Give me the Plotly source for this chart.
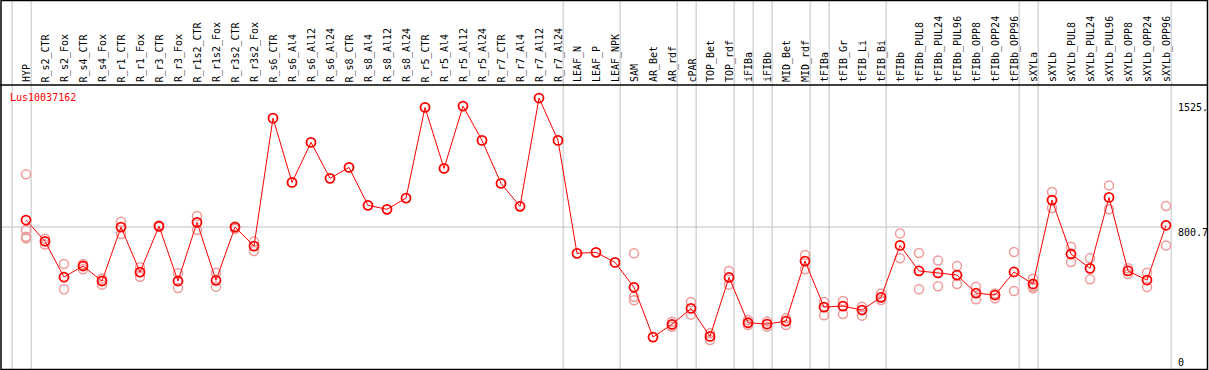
import plotly.graph_objects as go

W, H = 1209, 370

gene = "Lus10037162"
categories = ["HYP", "R_s2_CTR", "R_s2_Fox", "R_s4_CTR", "R_s4_Fox", "R_r1_CTR", "R_r1_Fox",
              "R_r3_CTR", "R_r3_Fox", "R_r1s2_CTR", "R_r1s2_Fox", "R_r3s2_CTR", "R_r3s2_Fox",
              "R_s6_CTR", "R_s6_Al4", "R_s6_Al12", "R_s6_Al24", "R_s8_CTR", "R_s8_Al4",
              "R_s8_Al12", "R_s8_Al24", "R_r5_CTR", "R_r5_Al4", "R_r5_Al12", "R_r5_Al24",
              "R_r7_CTR", "R_r7_Al4", "R_r7_Al12", "R_r7_Al24", "LEAF_N", "LEAF_P", "LEAF_NPK",
              "SAM", "AR_Bet", "AR_rdf", "cPAR", "TOP_Bet", "TOP_rdf", "iFIBa", "iFIBb",
              "MID_Bet", "MID_rdf", "tFIBa", "tFIB_Gr", "tFIB_Li", "tFIB_Bi", "tFIBb",
              "tFIBb_PUL8", "tFIBb_PUL24", "tFIBb_PUL96", "tFIBb_OPP8", "tFIBb_OPP24",
              "tFIBb_OPP96", "sXYLa", "sXYLb", "sXYLb_PUL8", "sXYLb_PUL24", "sXYLb_PUL96",
              "sXYLb_OPP8", "sXYLb_OPP24", "sXYLb_OPP96"]

mean_values = [843, 714, 497, 564, 473, 800, 527, 806, 473, 829, 477, 800, 685,
               1461, 1071, 1314, 1096, 1162, 932, 908, 976, 1526, 1156, 1534, 1326,
               1065, 926, 1583, 1326, 641, 647, 586,
               435, 133, 210, 307, 137, 495, 220, 212, 230, 594, 315, 321, 297, 374, 689,
               534, 522, 509, 400, 388, 528, 455, 964, 637, 550, 980, 534, 479, 811]

rep_a = [1120, 730, 576, 576, 489, 833, 556, 810, 520, 867, 523, 804, 712,
         None, None, None, None, None, None, None, None, None, None, None, None,
         None, None, None, None, None, None, None,
         641, None, 226, 346, 156, 534, 236, 228, 247, 631, 346, 352, 317, 398, 762,
         643, 598, 564, 439, 398, 649, 487, 1013, 681, 612, 1053, 550, 523, 928]
rep_b = [782, 695, 423, 544, 451, 758, 499, 800, 431, 782, 439, 790, 655,
         None, None, None, None, None, None, None, None, None, None, None, None,
         None, None, None, None, None, None, None,
         378, None, 196, 269, 115, 451, 206, 196, 206, 544, 265, 273, 263, 358, 611,
         423, 441, 455, 362, 368, 412, 429, 916, 588, 483, 908, 515, 437, 689]
rep_c = [742, None, None, None, None, None, None, None, None, None, None, None, None,
         None, None, None, None, None, None, None, None, None, None, None, None,
         None, None, None, None, None, None, None,
         356, None, None, None, None, None, None, None, None, None, None, None, None, None, None,
         None, None, None, None, None, None, 440, None, None, None, None, None, None, None]
rep_d = [732] + [None] * 60

group_ends = ["HYP", "R_r7_Al24", "LEAF_NPK", "AR_rdf", "cPAR", "TOP_rdf", "iFIBa", "iFIBb",
              "MID_rdf", "tFIBa", "tFIB_Bi", "tFIBb_OPP96", "sXYLa", "sXYLb_OPP96"]

axis_ticks = [1525, 800.7, 0]
axis_tick_text = ["1525.", "800.7", "0"]
axis_tick_shift = [0, -5, -3]
hline_value = 800.7

# pixel geometry
X0, DX = 26, 19          # px of first category and spacing
Y0, YSCALE = 359, 132 / 800.7  # px of value 0 and px per unit
xr = [-X0 / DX, (W - X0) / DX]
yr = [-(H - Y0) / YSCALE, Y0 / YSCALE]

def py(p):  # pixel y -> paper
    return 1 - p / H

def px(p):  # pixel x -> paper
    return p / W

xs = list(range(len(categories)))
MONO = "DejaVu Sans Mono"
RED = "#ff0000"
PINK = "#f09a9a"

fig = go.Figure()
for reps in (rep_a, rep_b, rep_c, rep_d):
    fig.add_trace(go.Scatter(x=xs, y=reps, mode="markers", hoverinfo="skip",
                             marker=dict(symbol="circle-open", size=9, color=PINK,
                                         line=dict(width=1.5, color=PINK))))
fig.add_trace(go.Scatter(x=xs, y=mean_values, mode="lines+markers",
                         line=dict(color=RED, width=1),
                         marker=dict(symbol="circle-open", size=9, color=RED,
                                     line=dict(width=1.8, color=RED))))

shapes = []
for i in [-1] + [categories.index(g) for g in group_ends]:
    shapes.append(dict(type="line", xref="x", yref="paper", x0=i + 0.27, x1=i + 0.27,
                       y0=0, y1=1, line=dict(color="#c0c0c0", width=1), layer="below"))
shapes.append(dict(type="line", xref="paper", yref="y", x0=0, x1=px(1170),
                   y0=hline_value, y1=hline_value, line=dict(color="#c0c0c0", width=1),
                   layer="below"))
shapes.append(dict(type="line", xref="paper", yref="paper", x0=0, x1=px(1207),
                   y0=py(85), y1=py(85), line=dict(color="black", width=1.5)))
shapes.append(dict(type="rect", xref="paper", yref="paper", x0=px(1), x1=px(1207.5),
                   y0=py(369.5), y1=py(0.5), line=dict(color="black", width=1.5)))

annotations = []
for i, c in enumerate(categories):
    annotations.append(dict(x=i + 0.03, y=py(83.5), xref="x", yref="paper", text=c,
                            textangle=-90, showarrow=False, xanchor="center",
                            yanchor="bottom", borderpad=0,
                            font=dict(family=MONO, size=10, color="black")))
for v, t, s in zip(axis_ticks, axis_tick_text, axis_tick_shift):
    annotations.append(dict(x=px(1177), y=v, xref="paper", yref="y", text=t,
                            showarrow=False, xanchor="left", yanchor="middle", yshift=s,
                            borderpad=0, font=dict(family=MONO, size=10, color="black")))
annotations.append(dict(x=px(9), y=py(97.5), xref="paper", yref="paper", text=gene,
                        showarrow=False, xanchor="left", yanchor="middle", borderpad=0,
                        font=dict(family=MONO, size=10, color=RED)))

fig.update_layout(width=W, height=H, margin=dict(l=0, r=0, t=0, b=0),
                  paper_bgcolor="white", plot_bgcolor="white", showlegend=False,
                  xaxis=dict(range=xr, visible=False, fixedrange=True),
                  yaxis=dict(range=yr, visible=False, fixedrange=True),
                  shapes=shapes, annotations=annotations)
fig.write_html("out.html", config={"displayModeBar": False},
               post_script="document.body.style.margin='0';document.body.style.overflow='hidden';")
